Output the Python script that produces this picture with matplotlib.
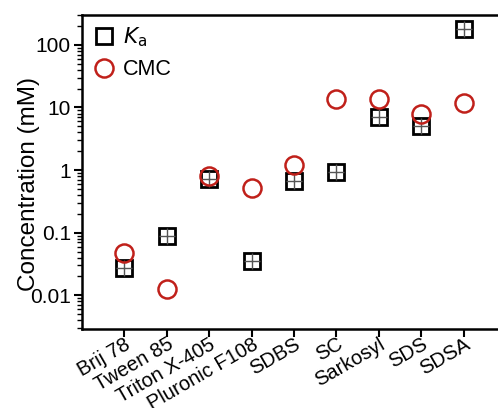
import matplotlib
matplotlib.use("Agg")
import matplotlib.pyplot as plt
from matplotlib.ticker import LogLocator, FixedLocator, FuncFormatter

plt.rcParams['font.family'] = ['Liberation Sans', 'DejaVu Sans']

# surfactants on the x axis
surfactants = ["Brij 78", "Tween 85", "Triton X-405", "Pluronic F108",
               "SDBS", "SC", "Sarkosyl", "SDS", "SDSA"]
# Ka values (mM)
ka = [0.027, 0.09, 0.72, 0.036, 0.67, 0.94, 7.0, 5.1, 180]
# CMC values (mM)
cmc = [0.047, 0.0125, 0.8, 0.51, 1.2, 13.7, 13.7, 7.9, 11.7]

fig = plt.figure(figsize=(4.98, 4.08), dpi=100)
# right edge of the axes runs off the figure, as in the reference crop
ax = fig.add_axes([82/498, (408-329)/408, (506-82)/498, (329-15)/408])

x = list(range(len(surfactants)))

# squares with a cross inside
ax.plot(x, ka, linestyle='none', marker='s', markersize=11.5, markerfacecolor='none',
        markeredgecolor='black', markeredgewidth=2.0, label=r'$K_{\rm a}$', zorder=3)
ax.plot(x, ka, linestyle='none', marker='+', markersize=11.5, color='#555555',
        markeredgewidth=1.0, zorder=3)
ax.plot(x, cmc, linestyle='none', marker='o', markersize=13, markerfacecolor='none',
        markeredgecolor='#c0201a', markeredgewidth=1.8, label='CMC', zorder=4)

ax.set_yscale('log')
ax.set_ylim(0.0029, 300)
ax.set_xlim(-1, 9)

ax.yaxis.set_major_locator(FixedLocator([0.01, 0.1, 1, 10, 100]))
ax.yaxis.set_major_formatter(FuncFormatter(lambda v, p: f"{v:g}"))
ax.yaxis.set_minor_locator(LogLocator(base=10, subs=range(2, 10)))

ax.set_xticks(x)
ax.set_xticklabels(surfactants, rotation=30, ha='right', va='top',
                   rotation_mode='anchor', fontsize=14.5)
ax.tick_params(axis='x', pad=-2, length=6, width=1.5, direction='out')
ax.tick_params(axis='y', which='major', labelsize=15, length=6, width=1.5, direction='out', pad=2)
ax.tick_params(axis='y', which='minor', length=3.5, width=1.0, direction='out')

for side in ['left', 'bottom', 'top', 'right']:
    ax.spines[side].set_linewidth(1.8)

ax.set_ylabel("Concentration (mM)", fontsize=17.5)
ax.yaxis.set_label_coords(-0.1, 0.462)

ax.legend(loc='upper left', frameon=False, fontsize=15.5, handletextpad=0.4,
          borderaxespad=0.1, handlelength=1.0, labelspacing=0.45)

fig.savefig("out.png", dpi=100)
